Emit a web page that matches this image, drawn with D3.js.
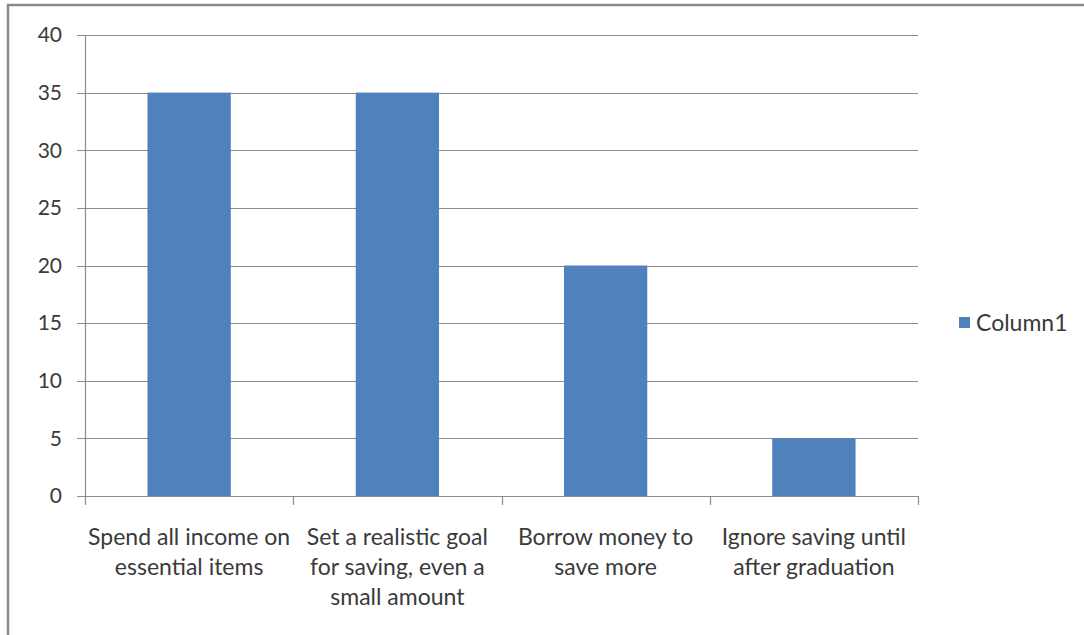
<!DOCTYPE html>
<html><head><meta charset="utf-8">
<script src="https://cdn.jsdelivr.net/npm/d3@7"></script>
<style>body{margin:0;background:#fff}svg{display:block}</style>
</head><body>
<script>
const categories = [
  ["Spend all income on","essential items"],
  ["Set a realistic goal","for saving, even a","small amount"],
  ["Borrow money to","save more"],
  ["Ignore saving until","after graduation"]
];
const values = [35, 35, 20, 5];
const yTicks = [0,5,10,15,20,25,30,35,40];
const seriesName = "Column1";

(function(){
const W = 1084, H = 635;
const svg = d3.select("body").append("svg").attr("width", W).attr("height", H);
const font = "Lato, 'Open Sans', sans-serif";
const textColor = "#3a3a3a";

// outer border
svg.append("rect").attr("x", 8).attr("y", 5).attr("width", W + 20).attr("height", H + 20)
  .attr("fill", "#fff").attr("stroke", "#8a8a8a").attr("stroke-width", 2.5);

const pLeft = 85, pRight = 918, pTop = 35, pBottom = 496;
const x = d3.scaleBand().domain(d3.range(categories.length)).range([pLeft, pRight]).paddingInner(0.6).paddingOuter(0.3);
const xb = d3.scaleBand().domain(d3.range(categories.length)).range([pLeft, pRight]);
const y = d3.scaleLinear().domain([0, 40]).range([pBottom, pTop]);

// gridlines
svg.append("g").selectAll("line").data(yTicks).join("line")
  .attr("x1", pLeft - 8).attr("x2", pRight)
  .attr("y1", d => Math.round(y(d)) + 0.5).attr("y2", d => Math.round(y(d)) + 0.5)
  .attr("stroke", "#8c8c8c").attr("stroke-width", 1.2);

// y axis line
svg.append("line").attr("x1", pLeft + 0.5).attr("x2", pLeft + 0.5).attr("y1", pTop).attr("y2", pBottom)
  .attr("stroke", "#8c8c8c").attr("stroke-width", 1.2);

// y tick labels
svg.append("g").selectAll("text").data(yTicks).join("text")
  .attr("x", 62).attr("y", d => y(d)).attr("dy", "0.35em")
  .attr("text-anchor", "end").attr("font-family", font).attr("font-size", 21)
  .attr("fill", textColor).text(d => d);

// bars
svg.append("g").selectAll("rect").data(values).join("rect")
  .attr("x", (d, i) => x(i)).attr("width", x.bandwidth())
  .attr("y", d => y(d)).attr("height", d => y(0) - y(d))
  .attr("fill", "#4F81BD");

// x axis line and ticks
svg.append("line").attr("x1", pLeft).attr("x2", pRight).attr("y1", pBottom + 0.5).attr("y2", pBottom + 0.5)
  .attr("stroke", "#8c8c8c").attr("stroke-width", 1.2);
const bounds = d3.range(categories.length + 1).map(i => i < categories.length ? xb(i) : pRight);
svg.append("g").selectAll("line").data(bounds).join("line")
  .attr("x1", d => Math.round(d) + 0.5).attr("x2", d => Math.round(d) + 0.5)
  .attr("y1", pBottom).attr("y2", pBottom + 9)
  .attr("stroke", "#8c8c8c").attr("stroke-width", 1.2);

// category labels
const cat = svg.append("g").selectAll("text").data(categories).join("text")
  .attr("text-anchor", "middle").attr("font-family", font).attr("font-size", 23)
  .attr("fill", textColor);
cat.each(function(lines, i) {
  d3.select(this).selectAll("tspan").data(lines).join("tspan")
    .attr("x", xb(i) + xb.bandwidth() / 2)
    .attr("y", (d, j) => 545 + j * 30)
    .text(d => d);
});

// legend
svg.append("rect").attr("x", 959).attr("y", 317).attr("width", 11).attr("height", 11).attr("fill", "#4F81BD");
svg.append("text").attr("x", 976).attr("y", 323).attr("dy", "0.35em")
  .attr("font-family", font).attr("font-size", 23).attr("fill", textColor).text(seriesName);
})();
</script>
</body></html>
